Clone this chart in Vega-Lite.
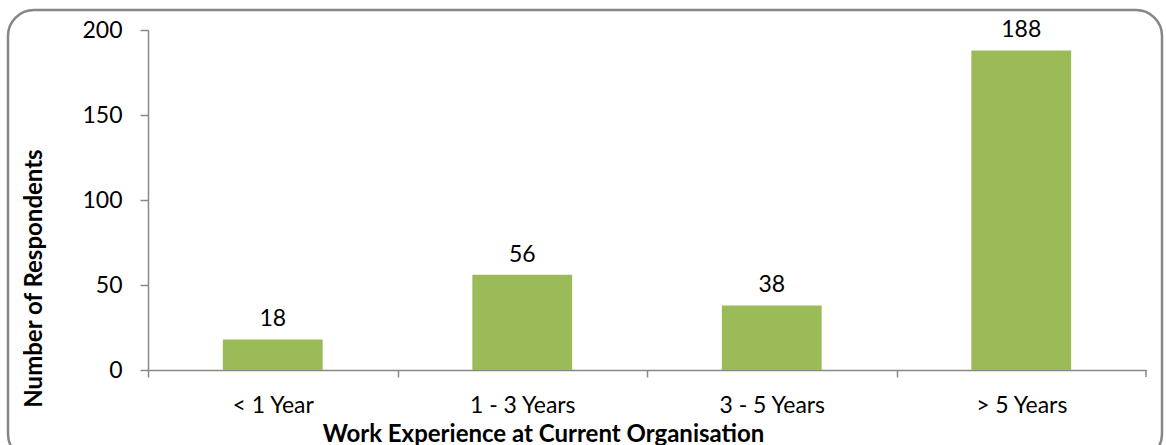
{
  "$schema": "https://vega.github.io/schema/vega-lite/v6.json",
  "width": 998,
  "height": 340,
  "autosize": {"type": "none"},
  "padding": {"left": 148, "top": 30, "right": 20, "bottom": 75},
  "background": "white",
  "config": {
    "view": {"stroke": null},
    "font": "Lato"
  },
  "layer": [
    {
      "data": {"values": [{"frame": 1}]},
      "mark": {
        "type": "rect",
        "x": -140, "x2": 1014, "y": -20, "y2": 430,
        "cornerRadius": 26,
        "fill": null,
        "stroke": "#868686",
        "strokeWidth": 2.5
      },
      "encoding": {}
    },
    {
      "data": {
        "values": [
          {"experience": "<  1 Year", "respondents": 18},
          {"experience": "1 - 3 Years", "respondents": 56},
          {"experience": "3 - 5 Years", "respondents": 38},
          {"experience": "> 5 Years", "respondents": 188}
        ]
      },
      "encoding": {
        "x": {
          "field": "experience",
          "type": "nominal",
          "sort": null,
          "scale": {"paddingInner": 0.6, "paddingOuter": 0.3},
          "axis": {
            "title": "Work Experience at Current Organisation",
            "labelAngle": 0,
            "labelFontSize": 23,
            "labelColor": "black",
            "labelPadding": 17,
            "tickOffset": -124.75,
            "labelOffset": 124.75,
            "tickSize": 7,
            "tickColor": "#888888",
            "tickWidth": 1.5,
            "domainColor": "#888888",
            "domainWidth": 1.5,
            "titleFontSize": 24,
            "titleFontWeight": "bold",
            "titleColor": "black",
            "titleX": 395,
            "titleY": 64,
            "titleAlign": "center",
            "titleBaseline": "middle"
          }
        },
        "y": {
          "field": "respondents",
          "type": "quantitative",
          "scale": {"domain": [0, 200], "nice": false},
          "axis": {
            "title": "Number of Respondents",
            "values": [0, 50, 100, 150, 200],
            "grid": false,
            "labelFontSize": 23,
            "labelColor": "black",
            "labelPadding": 18,
            "tickSize": 8,
            "tickColor": "#888888",
            "tickWidth": 1.5,
            "domainColor": "#888888",
            "domainWidth": 1.5,
            "titleFontSize": 24,
            "titleFontWeight": "bold",
            "titleColor": "black",
            "titleAngle": -90,
            "titleX": -114,
            "titleY": 248,
            "titleAlign": "center",
            "titleBaseline": "middle"
          }
        }
      },
      "layer": [
        {"mark": {"type": "bar", "color": "#9BBB59"}},
        {
          "mark": {"type": "text", "baseline": "bottom", "dy": -8, "fontSize": 23, "color": "black"},
          "encoding": {"text": {"field": "respondents", "type": "quantitative"}}
        },
        {
          "transform": [{"filter": "datum.experience == '> 5 Years'"}],
          "mark": {"type": "rule", "color": "#888888", "strokeWidth": 1.5, "xOffset": 124.75, "y2Offset": 7},
          "encoding": {
            "y": {"datum": 0},
            "y2": {"datum": 0}
          }
        }
      ]
    }
  ]
}
